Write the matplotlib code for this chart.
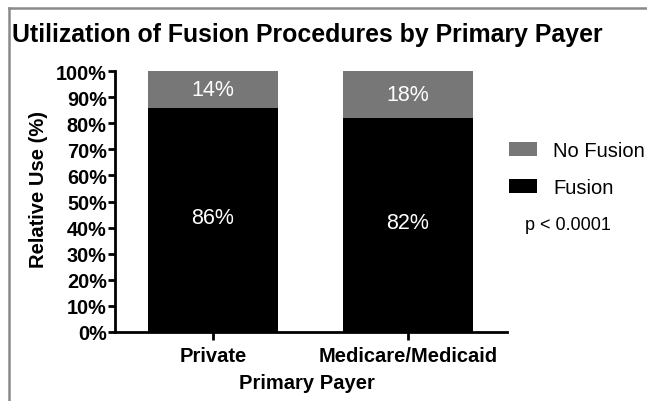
import numpy as np
import matplotlib.pyplot as plt
from matplotlib.lines import Line2D
from matplotlib.ticker import PercentFormatter

payers = ['Private', 'Medicare/Medicaid']
fusion = [86, 82]
no_fusion = [14, 18]
yticks = list(range(0, 101, 10))

plt.rcParams['font.family'] = ['Liberation Sans', 'DejaVu Sans']

fig = plt.figure(figsize=(6.47, 4.02), dpi=100)
ax = fig.add_axes([115/647, 1-333/402, 392/647, 261/402])

x = np.arange(len(payers))
b1 = ax.bar(x, fusion, width=0.667, color='black', label='Fusion')
b2 = ax.bar(x, no_fusion, width=0.667, bottom=fusion, color='#777777', label='No Fusion')

for i in range(len(payers)):
    ax.text(x[i], fusion[i]/2 + 1, f'{fusion[i]}%', color='white', ha='center', va='center', fontsize=15.5)
    ax.text(x[i], fusion[i] + no_fusion[i]/2, f'{no_fusion[i]}%', color='white', ha='center', va='center', fontsize=15.5)

ax.set_xlim(-0.503, 1.508)
ax.set_ylim(0, 100)
ax.set_yticks(yticks)
ax.yaxis.set_major_formatter(PercentFormatter(decimals=0))
ax.set_xticks(x)
ax.set_xticklabels(payers)
for lab in ax.get_xticklabels() + ax.get_yticklabels():
    lab.set_fontweight('bold')
ax.tick_params(axis='y', labelsize=14.3, width=2, length=5, pad=1)
ax.tick_params(axis='x', labelsize=14.5, width=2, length=6, pad=4)
ax.spines['top'].set_visible(False)
ax.spines['right'].set_visible(False)
ax.spines['left'].set_linewidth(2)
ax.spines['bottom'].set_linewidth(2)

ax.set_ylabel('Relative Use (%)', fontsize=14.5, fontweight='bold')
ax.yaxis.set_label_coords(-(115-48)/392, (333-190)/261)
ax.set_xlabel('Primary Payer', fontsize=14.5, fontweight='bold')
ax.xaxis.set_label_coords((307-115)/392, -(374-333)/261)

fig.text(12/647, 1-35/402, 'Utilization of Fusion Procedures by Primary Payer',
         fontsize=17.9, fontweight='bold', va='center', ha='left')

fig.legend(handles=[b2, b1], labels=['No Fusion', 'Fusion'], loc='upper left',
           bbox_to_anchor=(509/647, 1-142/402), frameon=False, fontsize=14.5,
           handlelength=1.4, handleheight=0.65, labelspacing=0.9, handletextpad=0.8,
           borderaxespad=0, borderpad=0)
fig.text(525/647, 1-226/402, 'p < 0.0001', fontsize=13, va='center', ha='left')

# grey frame on the left and top edge
fig.add_artist(Line2D([8.5/647, 8.5/647], [0, 1-8.5/402], transform=fig.transFigure, color='#8a8a8a', lw=1.8))
fig.add_artist(Line2D([8.5/647, 1], [1-8.5/402, 1-8.5/402], transform=fig.transFigure, color='#8a8a8a', lw=1.8))

fig.savefig('out.png', dpi=100)
